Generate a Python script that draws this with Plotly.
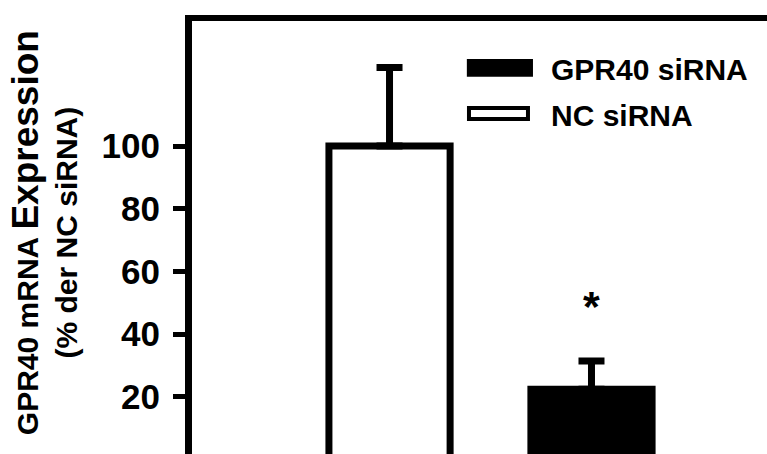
import plotly.graph_objects as go

# Relative GPR40 mRNA expression (% of NC siRNA control)
groups = ["NC siRNA", "GPR40 siRNA"]
means = [100, 22.5]
sem = [25, 9]
fill_colors = ["white", "black"]
y_ticks = [20, 40, 60, 80, 100]
significance = ["", "*"]

FONT = "Arial, Liberation Sans, sans-serif"

fig = go.Figure()
for g, m, e, c in zip(groups, means, sem, fill_colors):
    fig.add_trace(go.Bar(
        x=[g], y=[m],
        width=0.6,
        marker=dict(color=c, line=dict(color="black", width=7)),
        error_y=dict(type="data", array=[e], arrayminus=[0], symmetric=False,
                     color="black", thickness=7, width=13),
        showlegend=False,
    ))

# significance marks above the error bars
for g, m, e, s in zip(groups, means, sem, significance):
    if s:
        fig.add_annotation(x=g, y=m + e + 17.5, xref="x", yref="y", text="<b>%s</b>" % s,
                           showarrow=False, font=dict(family=FONT, size=43, color="black"),
                           xanchor="center", yanchor="middle")

# legend swatches and labels
fig.add_shape(type="rect", xref="paper", yref="paper",
              x0=0.478, x1=0.593, y0=0.871, y1=0.912,
              fillcolor="black", line=dict(color="black", width=0))
fig.add_shape(type="rect", xref="paper", yref="paper",
              x0=0.4817, x1=0.5843, y0=0.7737, y1=0.799,
              fillcolor="white", line=dict(color="black", width=4))
for label, yp in zip(["GPR40 siRNA", "NC siRNA"], [0.887, 0.781]):
    fig.add_annotation(x=0.621, y=yp, xref="paper", yref="paper", text="<b>%s</b>" % label,
                       showarrow=False, xanchor="left", yanchor="middle",
                       font=dict(family=FONT, size=30, color="black"))

# y-axis title (two lines)
fig.add_annotation(
    x=(44 - 192) / 575, y=0.510, xref="paper", yref="paper",
    text="<b>GPR40 mRNA <span style='font-size:37px'>Expression</span><br>(% der NC siRNA)</b>",
    textangle=-90, showarrow=False, xanchor="center", yanchor="middle",
    font=dict(family=FONT, size=30, color="black"),
)

fig.update_layout(
    width=767, height=454,
    margin=dict(l=192, r=0, t=21, b=0),
    paper_bgcolor="white", plot_bgcolor="white",
    bargap=0.4,
    xaxis=dict(type="category", range=[-0.978, 1.869], side="top",
               showline=True, linecolor="black", linewidth=6,
               showticklabels=False, ticks="", showgrid=False, zeroline=False),
    yaxis=dict(range=[1.83, 139.84], tickvals=y_ticks,
               showline=True, linecolor="black", linewidth=7,
               ticks="outside", ticklen=12, tickwidth=5, tickcolor="black",
               ticklabelstandoff=6,
               tickfont=dict(family=FONT, size=35, color="black", weight="bold"),
               showgrid=False, zeroline=False),
)

fig.write_html("out.html")
